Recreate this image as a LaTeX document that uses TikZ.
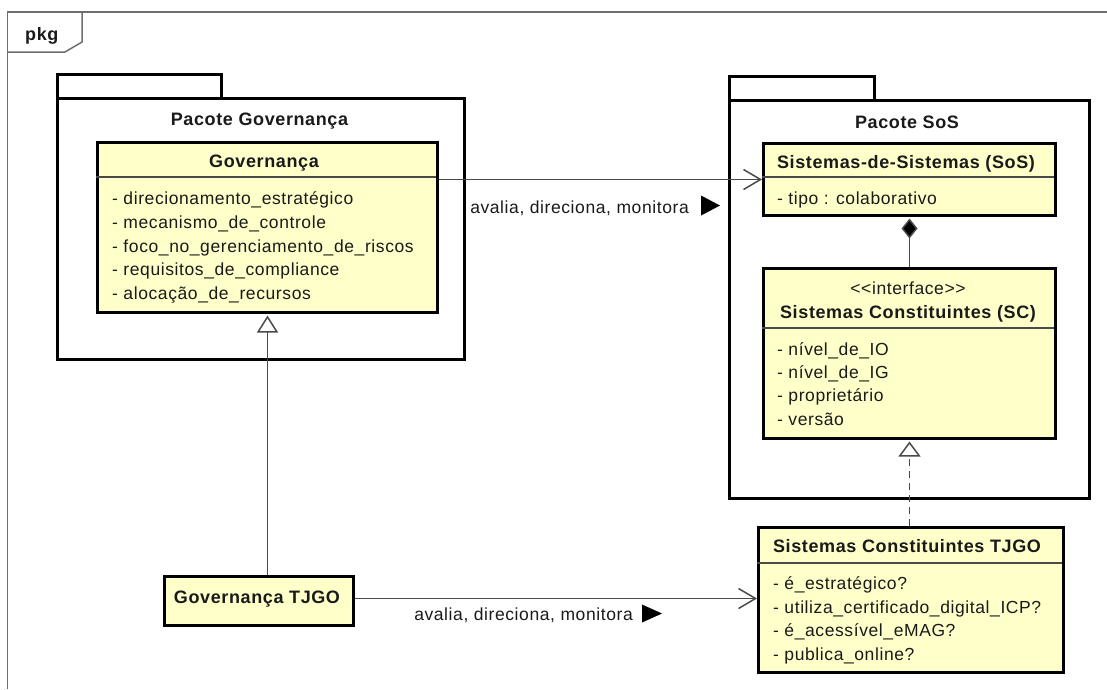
\documentclass[tikz,border=0pt]{standalone}
\usepackage{fontspec}
\setmainfont{Liberation Sans}[LetterSpace=3.4]
\usetikzlibrary{arrows.meta}
\definecolor{clsfill}{HTML}{FFFFCA}
\definecolor{txtc}{HTML}{1A1A1A}
\definecolor{framec}{HTML}{6E6E6E}
\definecolor{conc}{HTML}{4A4A4A}
\tikzset{
  txt/.style={font=\fontsize{17.5}{20}\selectfont, inner sep=0pt, text=txtc},
  btxt/.style={font=\fontsize{18}{20}\selectfont\bfseries, inner sep=0pt, text=txtc},
  clsbox/.style={draw=black, line width=3pt, fill=clsfill, inner sep=0pt, anchor=north west},
  pkgbox/.style={draw=black, line width=3pt, fill=white, inner sep=0pt, anchor=north west},
  sepline/.style={draw=conc, line width=1.3pt},
  conn/.style={draw=conc, line width=1.5pt},
  attr/.style={txt, anchor=base west},
}
\begin{document}
\begin{tikzpicture}[x=1pt, y=-1pt]
\useasboundingbox (0,0) rectangle (1107,689);
% outer frame
\draw[framec, line width=1.5pt] (7.5,689) -- (7.5,12) -- (1107,12);
\draw[framec, line width=1.5pt] (7.5,52) -- (65,52) -- (82,42) -- (82,12);
\node[btxt, anchor=base west] (pkg) at (25,40) {pkg};

% Pacote Governanca
\node[pkgbox, minimum width=164pt, minimum height=24pt] (gtab) at (56,73) {};
\node[pkgbox, minimum width=407pt, minimum height=261pt] (gpkg) at (56,97) {};
\node[btxt, anchor=base] (gpkgt) at (259.5,125.5) {Pacote Governança};

% Pacote SoS
\node[pkgbox, minimum width=145pt, minimum height=24pt] (stab) at (728,75) {};
\node[pkgbox, minimum width=360pt, minimum height=398pt] (spkg) at (728,99) {};
\node[btxt, anchor=base] (spkgt) at (907,128.5) {Pacote SoS};

% Governanca class
\node[clsbox, minimum width=340pt, minimum height=170pt] (govbox) at (96,141) {};
\draw[sepline] (96,177) -- (436,177);
\node[btxt, anchor=base] (govt) at (264,167.5) {Governança};
\node[attr] (ga1) at (112,204.5) {- direcionamento\_estratégico};
\node[attr] (ga2) at (112,228.2) {- mecanismo\_de\_controle};
\node[attr] (ga3) at (112,252) {- foco\_no\_gerenciamento\_de\_riscos};
\node[attr] (ga4) at (112,275.7) {- requisitos\_de\_compliance};
\node[attr] (ga5) at (112,299.5) {- alocação\_de\_recursos};

% SoS class
\node[clsbox, minimum width=292pt, minimum height=72pt] (sosbox) at (762,142) {};
\draw[sepline] (762,177) -- (1054,177);
\node[btxt, anchor=base] (sost) at (906,168.5) {Sistemas-de-Sistemas (SoS)};
\node[attr] (sa1) at (777,204.5) {- tipo : colaborativo};

% SC interface
\node[clsbox, minimum width=292pt, minimum height=170pt] (scbox) at (762,267) {};
\draw[sepline] (762,328) -- (1054,328);
\node[txt, anchor=base] (scst) at (908,294) {\textless{}\textless{}interface\textgreater{}\textgreater{}};
\node[btxt, anchor=base] (sct) at (908,318.5) {Sistemas Constituintes (SC)};
\node[attr] (sc1) at (777,355) {- nível\_de\_IO};
\node[attr] (sc2) at (777,378.3) {- nível\_de\_IG};
\node[attr] (sc3) at (777,401.7) {- proprietário};
\node[attr] (sc4) at (777,425) {- versão};

% SC TJGO
\node[clsbox, minimum width=305pt, minimum height=145pt] (sctjgo) at (757,526) {};
\draw[sepline] (757,563) -- (1062,563);
\node[btxt, anchor=base] (sctjgot) at (907,552.7) {Sistemas Constituintes TJGO};
\node[attr] (st1) at (773,589.3) {- é\_estratégico?};
\node[attr] (st2) at (773,613) {- utiliza\_certificado\_digital\_ICP?};
\node[attr] (st3) at (773,636.7) {- é\_acessível\_eMAG?};
\node[attr] (st4) at (773,660) {- publica\_online?};

% Governanca TJGO
\node[clsbox, minimum width=189pt, minimum height=49pt] (govtjgo) at (163,575) {};
\node[btxt, anchor=base] (govtjgot) at (257,603.3) {Governança TJGO};

% connectors
\draw[conn, -{Straight Barb[length=17pt,width=20pt]}] (govbox.east |- sosbox.west) -- (sosbox.west);
\node[txt, anchor=base east] (lbl1) at (689,213.3) {avalia, direciona, monitora};
\fill[black] (701,195.5) -- (720,205.5) -- (701,215.5) -- cycle;

\draw[conn, -{Straight Barb[length=17pt,width=20pt]}] ([yshift=2.5pt]govtjgo.east) -- ([yshift=2.5pt]govtjgo.east -| sctjgo.west);
\node[txt, anchor=base east] (lbl2) at (633,620) {avalia, direciona, monitora};
\fill[black] (642,604.5) -- (662,613.5) -- (642,622.5) -- cycle;

\draw[conn, -{Triangle[open, fill=white, length=17pt, width=21pt]}] (govbox.south |- govtjgo.north) -- ([yshift=-1.5pt]govbox.south);
\draw[conn, -{Diamond[length=20pt, width=16pt, fill=black]}] (scbox.north) -- ([yshift=-1.5pt]sosbox.south);
\draw[conn, dash pattern=on 7pt off 5pt, -{Triangle[open, fill=white, length=15pt, width=22pt]}] (scbox.south |- sctjgo.north) -- ([yshift=-1.5pt]scbox.south);
\end{tikzpicture}
\end{document}
